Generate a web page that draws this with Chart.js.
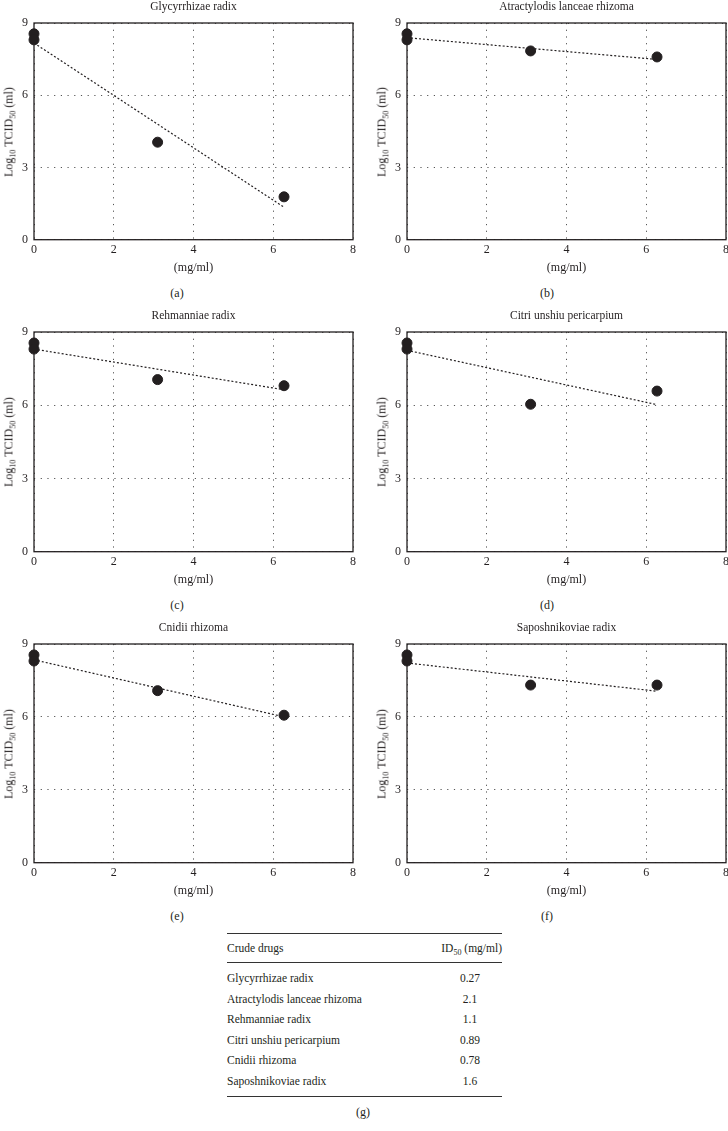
<!DOCTYPE html>
<html lang="en">
<head>
<meta charset="UTF-8">
<title>Crude drugs: Log10 TCID50 vs concentration</title>
<script src="https://cdn.jsdelivr.net/npm/chart.js"></script>
<style>
  body {
    margin: 0;
    width: 728px;
    height: 1131px;
    position: relative;
    overflow: hidden;
    background: #fff;
    font-family: "Liberation Serif", "DejaVu Serif", serif;
    color: #231f20;
  }
  .panel { position: absolute; width: 364px; }
  .panel canvas { display: block; }
  .ytitle {
    position: absolute;
    transform: translate(-50%, -50%) rotate(-90deg);
    white-space: nowrap;
    font-size: 12px;
  }
  sub { font-size: 8px; vertical-align: -3px; line-height: 0; }
  .letter {
    position: absolute;
    transform: translate(-50%, -50%);
    font-size: 12px;
  }
  #table {
    position: absolute;
    left: 227px;
    top: 933px;
    width: 275px;
    font-size: 11.5px;
    border-top: 1px solid #333;
    border-bottom: 1px solid #333;
  }
  #table .head {
    height: 28px;
    line-height: 28px;
    border-bottom: 1px solid #333;
    display: flex;
  }
  #table .rows { padding: 5px 0 4px 0; }
  #table .row { height: 20.6px; line-height: 20.6px; display: flex; }
  #table .name { flex: 1; }
  #table .val { width: 64px; text-align: center; }
</style>
</head>
<body>

<script>
// concentrations (mg/ml); two control points at 0
const doses = [0, 0, 3.1, 6.27];
const fitDoses = [0, 6.25];

const panelTitles = [
  'Glycyrrhizae radix',
  'Atractylodis lanceae rhizoma',
  'Rehmanniae radix',
  'Citri unshiu pericarpium',
  'Cnidii rhizoma',
  'Saposhnikoviae radix'
];
const panelLetters = ['(a)', '(b)', '(c)', '(d)', '(e)', '(f)'];

// Log10 TCID50
const glycyrrhizae = [8.55, 8.3, 4.05, 1.78];
const atractylodis = [8.55, 8.3, 7.84, 7.59];
const rehmanniae = [8.55, 8.3, 7.05, 6.8];
const citri = [8.55, 8.3, 6.04, 6.58];
const cnidii = [8.55, 8.3, 7.08, 6.07];
const saposhnikoviae = [8.55, 8.3, 7.31, 7.31];

// dotted trend lines (start, end)
const glycyrrhizaeFit = [8.17, 1.37];
const atractylodisFit = [8.39, 7.49];
const rehmanniaeFit = [8.3, 6.64];
const citriFit = [8.25, 6.03];
const cnidiiFit = [8.35, 6.01];
const saposhnikoviaeFit = [8.22, 7.06];

const xTicks = [0, 2, 4, 6, 8];
const yTicks = [0, 3, 6, 9];

const drugNames = panelTitles;
const id50Values = ['0.27', '2.1', '1.1', '0.89', '0.78', '1.6'];

const seriesList = [glycyrrhizae, atractylodis, rehmanniae, citri, cnidii, saposhnikoviae];
const fitList = [glycyrrhizaeFit, atractylodisFit, rehmanniaeFit, citriFit, cnidiiFit, saposhnikoviaeFit];

const INK = '#231f20';
const FONT = '"Liberation Serif", "DejaVu Serif", serif';

// layout of the 3x2 grid
const colLeft = [0, 373];
const rowTop = [0, 309, 621];
const plotH = [217, 220, 219];
const TITLE_BAND = 23;
const XAXIS_BAND = 35.3;   // tick labels (padding counted twice by chart.js) + axis title

const framePlugin = {
  id: 'frame',
  beforeDatasetsDraw(chart) {
    const a = chart.chartArea;
    const ctx = chart.ctx;
    ctx.save();
    ctx.strokeStyle = INK;
    ctx.lineWidth = 1.3;
    ctx.strokeRect(a.left, a.top, a.right - a.left, a.bottom - a.top);
    ctx.restore();
  }
};

function toPoints(xs, ys) {
  return xs.map((x, i) => ({ x: x, y: ys[i] }));
}

function makePanel(i) {
  const col = i % 2;
  const row = Math.floor(i / 2);
  const left = colLeft[col];
  const top = rowTop[row];
  const h = Math.round(TITLE_BAND + plotH[row] + XAXIS_BAND);

  const div = document.createElement('div');
  div.className = 'panel';
  div.style.left = left + 'px';
  div.style.top = top + 'px';
  const canvas = document.createElement('canvas');
  canvas.width = 364;
  canvas.height = h;
  div.appendChild(canvas);
  document.body.appendChild(div);

  const yt = document.createElement('div');
  yt.className = 'ytitle';
  yt.innerHTML = 'Log<sub>10</sub> TCID<sub>50</sub> (ml)';
  yt.style.left = (left + 8.5) + 'px';
  yt.style.top = (top + TITLE_BAND + plotH[row] / 2) + 'px';
  document.body.appendChild(yt);

  const lt = document.createElement('div');
  lt.className = 'letter';
  lt.textContent = panelLetters[i];
  lt.style.left = (col === 0 ? 177 : 547) + 'px';
  lt.style.top = (top + TITLE_BAND + plotH[row] + 53) + 'px';
  document.body.appendChild(lt);

  new Chart(canvas.getContext('2d'), {
    type: 'scatter',
    data: {
      datasets: [{
        data: toPoints(doses, seriesList[i]),
        pointRadius: 5,
        pointBorderWidth: 1,
        backgroundColor: INK,
        borderColor: INK,
        clip: false
      }, {
        data: toPoints(fitDoses, fitList[i]),
        showLine: true,
        pointRadius: 0,
        borderColor: INK,
        borderWidth: 1.2,
        borderDash: [2, 2],
        clip: false
      }]
    },
    options: {
      responsive: false,
      animation: false,
      layout: { padding: { left: 0, right: 11, top: 0, bottom: 0 } },
      plugins: {
        legend: { display: false },
        tooltip: { enabled: false },
        title: {
          display: true,
          fullSize: false,   // centre over the plot, not the canvas
          text: panelTitles[i],
          color: INK,
          font: { family: FONT, size: 11.5, weight: 'normal' },
          padding: { top: 0, bottom: 9.2 }
        }
      },
      scales: {
        x: {
          type: 'linear',
          min: xTicks[0],
          max: xTicks[xTicks.length - 1],
          afterBuildTicks: s => { s.ticks = xTicks.map(v => ({ value: v })); },
          grid: { color: '#555', lineWidth: 1, drawTicks: false },
          border: { display: false, dash: [1.2, 5.5] },
          ticks: { color: INK, padding: 3, font: { family: FONT, size: 12 } },
          title: {
            display: true,
            text: '(mg/ml)',
            color: INK,
            font: { family: FONT, size: 12 },
            padding: { top: 0.5, bottom: 0 }
          }
        },
        y: {
          min: yTicks[0],
          max: yTicks[yTicks.length - 1],
          afterBuildTicks: s => { s.ticks = yTicks.map(v => ({ value: v })); },
          afterFit: s => { s.width = 34; },
          grid: { color: '#555', lineWidth: 1, drawTicks: false },
          border: { display: false, dash: [1.2, 5.5] },
          ticks: { color: INK, padding: 6, font: { family: FONT, size: 12 } }
        }
      }
    },
    plugins: [framePlugin]
  });
}

for (let i = 0; i < 6; i++) {
  makePanel(i);
}

// ID50 table (g)
function makeTable() {
  const t = document.createElement('div');
  t.id = 'table';
  let html = '<div class="head"><div class="name">Crude drugs</div>' +
             '<div style="text-align:right">ID<sub>50</sub> (mg/ml)</div></div><div class="rows">';
  for (let i = 0; i < drugNames.length; i++) {
    html += '<div class="row"><div class="name">' + drugNames[i] + '</div>' +
            '<div class="val">' + id50Values[i] + '</div></div>';
  }
  html += '</div>';
  t.innerHTML = html;
  document.body.appendChild(t);

  const g = document.createElement('div');
  g.className = 'letter';
  g.textContent = '(g)';
  g.style.left = '363px';
  g.style.top = '1112px';
  document.body.appendChild(g);
}
makeTable();
</script>
</body>
</html>
